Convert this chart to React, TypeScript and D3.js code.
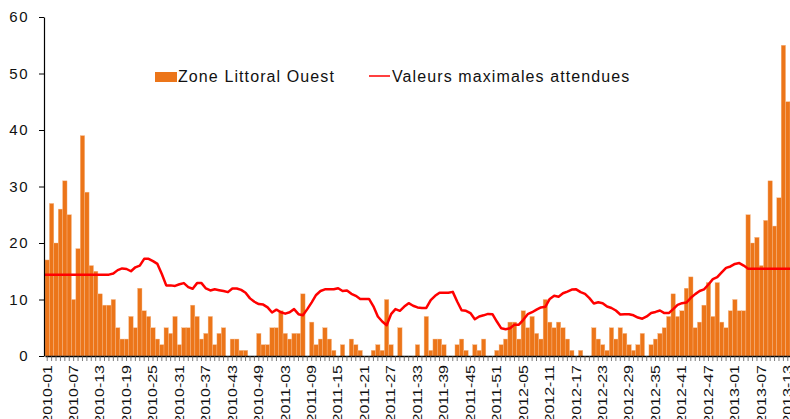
import React, { useEffect, useRef } from 'react';
import * as d3 from 'd3';

// weeks per year shown in the chart (2010-01 .. 2013-13)
const years = [2010, 2011, 2012, 2013];
const weeksPerYear = [52, 52, 52, 13];

// weekly counts, Zone Littoral Ouest
const cases = [
  17, 27, 20, 26, 31, 25, 10, 19, 39, 29, 16, 15, 11, 9, 9, 10, 5, 3, 3, 7, 5, 12, 8, 7, 5, 3,
  2, 5, 4, 7, 2, 5, 5, 9, 7, 3, 4, 7, 2, 4, 5, 0, 3, 3, 1, 1, 0, 0, 4, 2, 2, 5,
  5, 8, 4, 3, 4, 4, 11, 0, 6, 2, 3, 5, 3, 1, 0, 2, 0, 3, 2, 1, 0, 0, 1, 2, 1, 10,
  2, 0, 5, 0, 0, 0, 2, 0, 7, 1, 3, 3, 2, 0, 0, 2, 3, 1, 0, 2, 1, 3, 0, 0, 1, 2,
  3, 6, 6, 3, 8, 5, 7, 4, 3, 10, 6, 5, 6, 5, 3, 1, 0, 1, 0, 0, 5, 3, 2, 1, 5, 3,
  5, 4, 2, 1, 2, 4, 0, 2, 3, 4, 5, 7, 11, 7, 8, 12, 14, 5, 6, 9, 13, 7, 13, 6, 5, 8,
  10, 8, 8, 25, 20, 21, 16, 24, 31, 23, 28, 55, 45
];

// expected maximum values
const maxExpected = [
  14.4, 14.4, 14.4, 14.4, 14.4, 14.4, 14.4, 14.4, 14.4, 14.4, 14.4, 14.4, 14.4, 14.4, 14.4,
  14.6, 15.2, 15.5, 15.4, 15.0, 15.7, 16.0, 17.2, 17.2, 16.8, 16.3, 14.5, 12.5, 12.5, 12.4,
  12.7, 12.9, 12.2, 11.9, 12.9, 12.9, 11.95, 11.6, 11.8, 11.65, 11.5, 11.3, 11.95, 11.95,
  11.7, 11.2, 10.2, 9.6, 9.2, 9.1, 8.6, 7.7, 8.2, 7.75, 7.5, 7.75, 8.3, 7.4, 7.2, 8.3,
  9.5, 10.8, 11.5, 11.8, 11.8, 11.8, 12.0, 11.5, 11.6, 11.0, 10.65, 10.1, 10.1, 10.1,
  8.8, 7.0, 6.1, 5.45, 7.4, 8.3, 8.0, 8.75, 9.35, 8.9, 8.6, 8.5, 8.5, 9.9, 10.65, 11.2,
  11.2, 11.2, 11.35, 9.65, 8.1, 8.0, 7.6, 6.5, 7.0, 7.2, 7.45, 7.4, 6.1, 4.9, 4.75, 4.9,
  5.55, 5.55, 6.4, 7.4, 7.75, 8.2, 8.6, 8.7, 10.1, 10.65, 10.5, 11.1, 11.4, 11.75, 11.8,
  11.3, 11.0, 10.25, 9.3, 9.5, 9.35, 8.75, 8.5, 8.05, 7.35, 7.4, 7.4, 7.2, 6.8, 6.6, 7.0,
  7.6, 7.8, 8.05, 7.6, 7.6, 8.3, 9.05, 9.35, 9.45, 10.3, 10.95, 11.5, 11.8, 12.65, 13.6,
  13.95, 14.8, 15.6, 15.85, 16.3, 16.45, 16.0, 15.45, 15.45, 15.45, 15.45, 15.45, 15.45,
  15.45, 15.45, 15.45, 15.45
];

const yTicks = [0, 10, 20, 30, 40, 50, 60];
const labelEvery = 6;

const weeks: string[] = [];
years.forEach((yr, k) => {
  for (let w = 1; w <= weeksPerYear[k]; w++) {
    weeks.push(`${yr}-${String(w).padStart(2, '0')}`);
  }
});

const W = 790;
const H = 419;
const FONT = '"Liberation Sans", Arial, sans-serif';

const App: React.FC = () => {
  const svgRef = useRef<SVGSVGElement>(null);

  useEffect(() => {
    if (!svgRef.current) return;
    const svg = d3.select(svgRef.current);
    svg.selectAll('*').remove();

    const margin = { top: 17, right: 0, bottom: 63, left: 45 };
    const x = d3.scaleBand<string>()
      .domain(weeks)
      .range([margin.left, W - margin.right])
      .padding(0);
    const y = d3.scaleLinear()
      .domain([0, 60])
      .range([H - margin.bottom, margin.top]);

    // bars
    svg.append('g')
      .selectAll('rect')
      .data(cases)
      .join('rect')
      .attr('x', (d, i) => x(weeks[i]) as number)
      .attr('y', d => y(d))
      .attr('width', x.bandwidth())
      .attr('height', d => y(0) - y(d))
      .attr('fill', '#EC7519')
      .attr('stroke', '#F6B98A')
      .attr('stroke-width', 0.4);

    // expected max line
    const last = weeks.length - 1;
    const line = d3.line<number>()
      .x((d, i) => i === 0 ? x.range()[0] : i === last ? x.range()[1] : (x(weeks[i]) as number) + x.bandwidth() / 2)
      .y(d => y(d));
    svg.append('path')
      .datum(maxExpected)
      .attr('fill', 'none')
      .attr('stroke', '#FF0000')
      .attr('stroke-width', 2.5)
      .attr('stroke-linejoin', 'round')
      .attr('d', line);

    // y axis
    const yAxis = svg.append('g')
      .attr('transform', `translate(${margin.left - 1},0)`)
      .call(d3.axisLeft(y).tickValues(yTicks).tickSize(5).tickPadding(10).tickSizeOuter(0));
    yAxis.select('.domain').attr('stroke', '#000').attr('stroke-width', 1.2);
    yAxis.selectAll('.tick line').attr('stroke', '#000');
    yAxis.selectAll('.tick text')
      .style('font-family', FONT)
      .style('font-size', '15px')
      .style('letter-spacing', '1.5px')
      .attr('fill', '#111');

    // x axis with a small tick for every week
    const xAxis = svg.append('g')
      .attr('transform', `translate(0,${y(0)})`)
      .call(d3.axisBottom(x).tickSize(5).tickSizeOuter(0).tickFormat(() => ''));
    xAxis.select('.domain').attr('stroke', '#000').attr('stroke-width', 1.5);
    xAxis.selectAll('.tick line').attr('stroke', '#555').attr('stroke-width', 0.8);

    // rotated week labels (tall, narrow glyphs)
    svg.append('g')
      .selectAll('text')
      .data(weeks.filter((w, i) => i % labelEvery === 0))
      .join('text')
      .attr('transform', d => `translate(${(x(d) as number) + x.bandwidth() / 2},${y(0) + 9}) rotate(-90) scale(1,0.75)`)
      .attr('dy', '0.36em')
      .attr('text-anchor', 'end')
      .style('font-family', FONT)
      .style('font-size', '16px')
      .attr('fill', '#111')
      .text(d => d);

    // legend
    const legend = svg.append('g').style('font-family', FONT).style('font-size', '16px');
    legend.append('rect')
      .attr('x', 155).attr('y', 72).attr('width', 22).attr('height', 10)
      .attr('fill', '#EC7519');
    legend.append('text')
      .attr('x', 178).attr('y', 82)
      .style('letter-spacing', '1.1px')
      .attr('fill', '#111')
      .text('Zone Littoral Ouest');
    legend.append('line')
      .attr('x1', 369).attr('x2', 390).attr('y1', 76).attr('y2', 76)
      .attr('stroke', '#FF0000').attr('stroke-width', 1.5);
    legend.append('text')
      .attr('x', 392).attr('y', 82)
      .style('letter-spacing', '1.1px')
      .attr('fill', '#111')
      .text('Valeurs maximales attendues');
  }, []);

  return (
    <svg
      ref={svgRef}
      width={W}
      height={H}
      style={{ position: 'absolute', left: 0, top: 0, background: '#fff' }}
    />
  );
};

export default App;
